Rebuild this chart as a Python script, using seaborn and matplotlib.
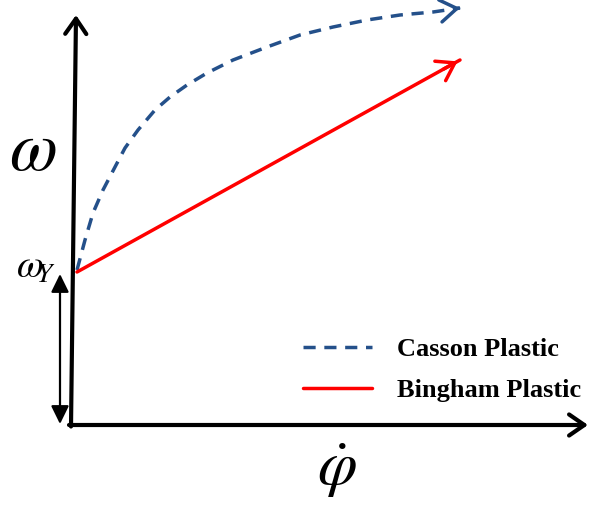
import matplotlib
matplotlib.use("Agg")
import matplotlib.pyplot as plt
import seaborn as sns
import pandas as pd

# Flow curves: shear stress vs. shear rate (arbitrary units)
casson_rate = [7, 15, 23, 33, 45, 55, 68, 85, 100, 117, 137, 163, 197, 230, 263, 297, 330, 363, 390]
casson_stress = [155, 185, 212, 235, 258, 277, 295, 315, 328, 340, 352, 365, 378, 390, 398, 405, 410, 413, 417]
bingham_rate = [7, 390]
bingham_stress = [153, 365]
yield_stress = 153
series_names = ["Casson Plastic", "Bingham Plastic"]

sns.set_style("white")
plt.rcParams["mathtext.fontset"] = "stix"
plt.rcParams["font.family"] = ["Liberation Serif", "DejaVu Serif"]
plt.rcParams["text.color"] = "black"

df = pd.concat([
    pd.DataFrame({"rate": casson_rate, "stress": casson_stress, "model": series_names[0]}),
    pd.DataFrame({"rate": bingham_rate, "stress": bingham_stress, "model": series_names[1]}),
])

fig = plt.figure(figsize=(5.9, 5.16), dpi=100)
ax = fig.add_axes([0, 0, 1, 1])
ax.set_xlim(-70, 520)
ax.set_ylim(-91, 425)
ax.axis("off")

blue = "#24508a"
red = "#ff0000"
lw = 2.5
dash = (3.5, 2.5)
sns.lineplot(data=df, x="rate", y="stress", hue="model", style="model",
             palette={series_names[0]: blue, series_names[1]: red},
             dashes={series_names[0]: dash, series_names[1]: ""},
             linewidth=lw, sort=False, ax=ax, legend=False)

# arrowheads at the ends of both curves
def head(xs, ys, color):
    dx, dy = xs[-1] - xs[-2], ys[-1] - ys[-2]
    ax.annotate("", xy=(xs[-1], ys[-1]), xytext=(xs[-1] - 0.05 * dx, ys[-1] - 0.05 * dy),
                arrowprops=dict(arrowstyle="->,head_length=0.6,head_width=0.4",
                                color=color, lw=lw, mutation_scale=20))

head(casson_rate, casson_stress, blue)
head(bingham_rate, bingham_stress, red)

# coordinate axes drawn as arrows
axis_style = dict(arrowstyle="->,head_length=0.55,head_width=0.38", color="black",
                  lw=3, mutation_scale=20, shrinkA=0, shrinkB=0)
ax.annotate("", xy=(518, 0), xytext=(-1, 0), arrowprops=axis_style)
ax.annotate("", xy=(6, 410), xytext=(1, -1.5), arrowprops=axis_style)

# yield stress marker
ax.annotate("", xy=(-10, yield_stress - 2), xytext=(-10, 1),
            arrowprops=dict(arrowstyle="<|-|>,head_length=0.55,head_width=0.27",
                            color="black", lw=1.6, mutation_scale=20,
                            shrinkA=0, shrinkB=0))

ax.text(-37, 272, r"$\omega$", fontsize=50, ha="center", va="center")
ax.text(-54, 157, r"$\omega_{\!\!Y}$", fontsize=28, ha="left", va="center")
ax.text(267, -46, r"$\dot{\varphi}$", fontsize=46, ha="center", va="center")

# legend
handles = [plt.Line2D([], [], color=blue, lw=lw, dashes=dash),
           plt.Line2D([], [], color=red, lw=lw)]
leg = ax.legend(handles, series_names, loc="center left",
                bbox_to_anchor=(303 / 590, 1 - 370 / 516), bbox_transform=fig.transFigure,
                frameon=False, borderpad=0, borderaxespad=0,
                handlelength=2.6, handletextpad=0.95, labelspacing=0.67,
                prop={"family": "Liberation Serif", "weight": "bold", "size": 19})
for t in leg.get_texts():
    t.set_color("black")

fig.savefig("out.png", dpi=100)
